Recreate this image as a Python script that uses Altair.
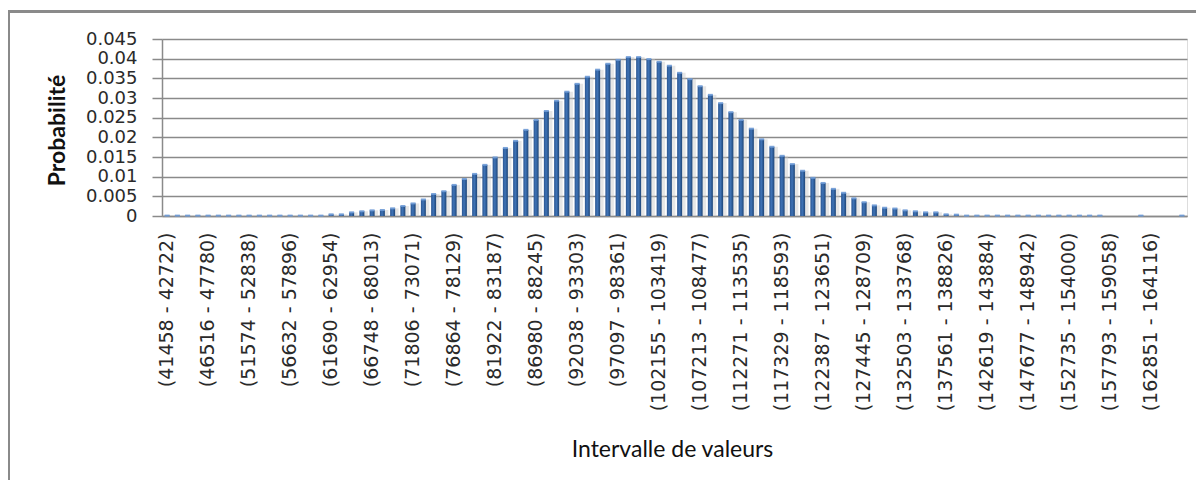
import json
import altair as alt
import pandas as pd

# ---- data ----
interval_labels = [
    "(41458 - 42722)", "(46516 - 47780)", "(51574 - 52838)", "(56632 - 57896)",
    "(61690 - 62954)", "(66748 - 68013)", "(71806 - 73071)", "(76864 - 78129)",
    "(81922 - 83187)", "(86980 - 88245)", "(92038 - 93303)", "(97097 - 98361)",
    "(102155 - 103419)", "(107213 - 108477)", "(112271 - 113535)", "(117329 - 118593)",
    "(122387 - 123651)", "(127445 - 128709)", "(132503 - 133768)", "(137561 - 138826)",
    "(142619 - 143884)", "(147677 - 148942)", "(152735 - 154000)", "(157793 - 159058)",
    "(162851 - 164116)",
]

probability = [
    0.0001, 0.0001, 0.0001, 0.0001, 0.0001, 0.0001, 0.0001, 0.0001,
    0.0001, 0.0001, 0.0001, 0.0001, 0.0001, 0.0001, 0.0001, 0.0001,
    0.00042, 0.00042, 0.00093, 0.0012, 0.00144, 0.00153, 0.00195, 0.00255,
    0.0032, 0.0042, 0.0056, 0.0063, 0.0079, 0.0094, 0.0107, 0.0130,
    0.0149, 0.0173, 0.0191, 0.0219, 0.0244, 0.0267, 0.0293, 0.0316,
    0.0336, 0.0354, 0.0372, 0.0387, 0.0397, 0.0404, 0.0404, 0.0399,
    0.0392, 0.0382, 0.0364, 0.0348, 0.0330, 0.0308, 0.0287, 0.0264,
    0.0244, 0.0222, 0.0195, 0.0176, 0.0153, 0.0132, 0.0115, 0.0097,
    0.0084, 0.0069, 0.0059, 0.0045, 0.0035, 0.0027, 0.0021, 0.0019,
    0.00144, 0.0012, 0.00093, 0.00093, 0.00042, 0.00034,
    0.0001, 0.0001, 0.0001, 0.0001, 0.0001, 0.0001, 0.0001,
    0.0001, 0.0001, 0.0001, 0.0001, 0.0001, 0.0001, 0.0001,
    0.0, 0.0, 0.0, 0.0001, 0.0, 0.0, 0.0, 0.0001,
]

y_ticks = [0, 0.005, 0.01, 0.015, 0.02, 0.025, 0.03, 0.035, 0.04, 0.045]
label_every = 4

df = pd.DataFrame({"idx": list(range(len(probability))), "p": probability})

label_expr = json.dumps(interval_labels) + "[floor(datum.value / %d)]" % label_every

grid_col = "#8a8a8a"

x_enc = alt.X(
    "idx:O",
    scale=alt.Scale(paddingInner=0, paddingOuter=0),
    axis=alt.Axis(
        values=list(range(0, len(probability), label_every)),
        labelExpr=label_expr,
        labelAngle=-90,
        labelAlign="right",
        labelBaseline="middle",
        labelFont="DejaVu Sans",
        labelFontSize=19,
        labelColor="#2a2a2a",
        labelPadding=16,
        labelLimit=400,
        ticks=False,
        tickSize=0,
        domainColor=grid_col,
        domainWidth=1.5,
        title="Intervalle de valeurs",
        titleFont="Lato",
        titleFontSize=23,
        titleFontWeight="normal",
        titleColor="#111111",
        titleX=510,
        titleY=233,
        titleAlign="center",
        titleBaseline="middle",
        labelOverlap=False,
    ),
)

y_enc = alt.Y(
    "p:Q",
    scale=alt.Scale(domain=[0, 0.045], nice=False),
    axis=alt.Axis(
        values=y_ticks,
        format="~g",
        grid=True,
        gridColor=grid_col,
        gridWidth=1.5,
        domainColor=grid_col,
        domainWidth=1.5,
        tickColor=grid_col,
        tickWidth=1.5,
        tickSize=10,
        labelFont="DejaVu Sans",
        labelFontSize=18,
        labelColor="#2a2a2a",
        labelPadding=15,
        labelBaseline="middle",
        title="Probabilité",
        titleFont="Lato",
        titleFontSize=23,
        titleFontWeight="bold",
        titleColor="#111111",
        titleAngle=-90,
        titleX=-105,
        titleY=91,
        titleAlign="center",
        titleBaseline="middle",
        labelOverlap=False,
    ),
)

base = alt.Chart(df)

frame = base.mark_rect(fill=None, stroke="#8a8a8a", strokeWidth=3).encode(
    x=alt.value(-153.5), x2=alt.value(1200), y=alt.value(-27.5), y2=alt.value(600)
).transform_filter("datum.idx == 0")

shadow = base.mark_bar(size=4, xOffset=4, color="#c8c8c8", opacity=0.45).encode(
    x=x_enc, y=y_enc
)

bar_gradient = alt.Gradient(
    gradient="linear",
    stops=[
        alt.GradientStop(color="#2A5591", offset=0),
        alt.GradientStop(color="#3F73B6", offset=0.45),
        alt.GradientStop(color="#1E4577", offset=1),
    ],
    x1=0, x2=1, y1=0, y2=0,
)

bars = base.mark_bar(size=5, color=bar_gradient).encode(x=x_enc, y=y_enc)

caps = base.mark_tick(size=5, thickness=2, color="#6F9BD6", opacity=0.9).encode(
    x=x_enc, y=y_enc
).transform_filter("datum.p > 0")

chart = alt.layer(frame, shadow, bars, caps).properties(
    width=1025,
    height=177,
    autosize=alt.AutoSizeParams(type="none"),
    padding={"left": 154, "top": 31, "right": 9, "bottom": 264},
).configure_view(stroke=None).configure(background="white")

chart.save("out.html", embed_options={"renderer": "svg", "actions": False})
